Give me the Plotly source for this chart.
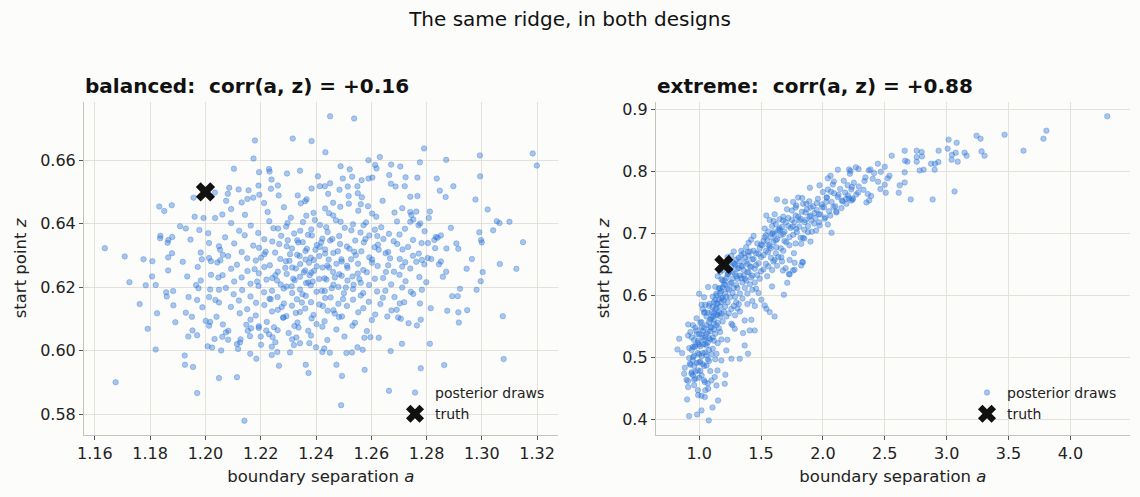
import plotly.graph_objects as go

# ---------------- data ----------------
truth_a = 1.2
truth_z = 0.65

# balanced design: sparse outer draws (a, z)
balanced_outer = [
    (1.1636, 0.6323), (1.1708, 0.6297), (1.1725, 0.6216), (1.1675, 0.5901), (1.1762, 0.6147),
    (1.1776, 0.6288), (1.1784, 0.6206), (1.1791, 0.6069), (1.1808, 0.6282), (1.1807, 0.6234),
    (1.1820, 0.6004), (1.1825, 0.6118), (1.1820, 0.6207), (1.1833, 0.6454), (1.1851, 0.6440),
    (1.1878, 0.6458), (1.1837, 0.6362), (1.1836, 0.6354), (1.1863, 0.6340), (1.1866, 0.6349),
    (1.1880, 0.6358), (1.1879, 0.6307), (1.1865, 0.6294), (1.1865, 0.6253), (1.1858, 0.6184),
    (1.1860, 0.6171), (1.1883, 0.6188), (1.1884, 0.6143), (1.1891, 0.6090), (1.1908, 0.6392),
    (1.1918, 0.6280), (1.1926, 0.5956), (1.1925, 0.5985), (1.1955, 0.5949), (1.1970, 0.5867),
    (1.1929, 0.6120), (1.1934, 0.6234), (1.1939, 0.6169), (1.1938, 0.6045), (1.1953, 0.6064),
    (1.1946, 0.6350), (1.1929, 0.6385), (1.1961, 0.6422), (1.1957, 0.6482), (1.2034, 0.6498),
    (1.1951, 0.6107), (1.1970, 0.6049), (1.1970, 0.6160), (1.1966, 0.6207), (1.1975, 0.6197),
    (1.1983, 0.6221), (1.1989, 0.6137), (1.1987, 0.6288), (1.1983, 0.6309), (1.1978, 0.6380),
    (1.1993, 0.6418), (1.1972, 0.6264), (1.2001, 0.6094), (1.2013, 0.6079), (1.2017, 0.6091),
    (1.2008, 0.6014), (1.2024, 0.6010), (1.2033, 0.6037), (1.2020, 0.6282), (1.2013, 0.6292),
    (1.2013, 0.6339), (1.2010, 0.6370), (1.2035, 0.6418), (1.2020, 0.6239), (1.2017, 0.6193),
    (1.2013, 0.6169), (1.2036, 0.6160), (1.2040, 0.6107), (1.2049, 0.5914), (1.2057, 0.6001),
    (1.2061, 0.6044), (1.2082, 0.6035), (1.2074, 0.6058), (1.2063, 0.6083), (1.2049, 0.6152),
    (1.2049, 0.6192), (1.2047, 0.6231), (1.2054, 0.6285), (1.2063, 0.6302), (1.2049, 0.6329),
    (1.2081, 0.6494), (1.2086, 0.6513), (1.2075, 0.6472), (1.2061, 0.6429), (1.2093, 0.6446),
    (1.2103, 0.6573), (1.2114, 0.5917), (1.2118, 0.6006), (1.2125, 0.6026), (1.2114, 0.6021),
    (1.3184, 0.6621), (1.3199, 0.6583), (1.2993, 0.6615), (1.2994, 0.6549), (1.2977, 0.6476),
    (1.3021, 0.6445), (1.3054, 0.6408), (1.3064, 0.6402), (1.3100, 0.6406), (1.3041, 0.6379),
    (1.2991, 0.6373), (1.2997, 0.6349), (1.3000, 0.6341), (1.3149, 0.6342), (1.3065, 0.6273),
    (1.3125, 0.6258), (1.3003, 0.6248), (1.2964, 0.6289), (1.2945, 0.6258), (1.2996, 0.6219),
    (1.2981, 0.6192), (1.2947, 0.6128), (1.2915, 0.6121), (1.2917, 0.6089), (1.3076, 0.6109),
    (1.3079, 0.5974), (1.2921, 0.6195), (1.2913, 0.6172), (1.2893, 0.6172), (1.2875, 0.6126),
    (1.2864, 0.5955), (1.2812, 0.6022), (1.2779, 0.5945), (1.2779, 0.6098), (1.2765, 0.6080),
    (1.2815, 0.6134), (1.2776, 0.6149), (1.2799, 0.6216), (1.2859, 0.6233), (1.2871, 0.6249),
    (1.2845, 0.6272), (1.2852, 0.6281), (1.2817, 0.6289), (1.2783, 0.6286), (1.2872, 0.6322),
    (1.2908, 0.6338), (1.2915, 0.6321), (1.2888, 0.6387), (1.2852, 0.6363), (1.2840, 0.6356),
    (1.2828, 0.6349), (1.2805, 0.6339), (1.2808, 0.6418), (1.2812, 0.6438), (1.2777, 0.6401),
    (1.2763, 0.6438), (1.2741, 0.6437), (1.2752, 0.6413), (1.2741, 0.6406), (1.2897, 0.6518),
    (1.2848, 0.6504), (1.2837, 0.6542), (1.2869, 0.6484), (1.2871, 0.6601), (1.2791, 0.6637),
    (1.2776, 0.6593), (1.2767, 0.6545), (1.2767, 0.6487), (1.2741, 0.6485), (1.2721, 0.6518),
    (1.2724, 0.6546), (1.2705, 0.6580), (1.2672, 0.6586), (1.2665, 0.6553), (1.2671, 0.6526),
    (1.2688, 0.6517), (1.2631, 0.6610), (1.2614, 0.6585), (1.2619, 0.6574), (1.2590, 0.6600),
    (1.2604, 0.6545), (1.2590, 0.6542), (1.2565, 0.6537), (1.2566, 0.6483), (1.2562, 0.6461),
    (1.2763, 0.6280), (1.2743, 0.6186), (1.2719, 0.6153), (1.2707, 0.6101), (1.2711, 0.6022),
    (1.2670, 0.5999), (1.2664, 0.5874), (1.2735, 0.6087), (1.2697, 0.6105), (1.2658, 0.6108),
    (1.2627, 0.6041), (1.2597, 0.6043), (1.2575, 0.6041), (1.2576, 0.5940), (1.2569, 0.6003),
    (1.2550, 0.6011), (1.2530, 0.5995), (1.2510, 0.5993), (1.2494, 0.5921), (1.2491, 0.5829),
    (1.2474, 0.5956), (1.2450, 0.5994), (1.2430, 0.6007), (1.2423, 0.5996), (1.2400, 0.6011),
    (1.2376, 0.6024), (1.2373, 0.5930), (1.2363, 0.5956), (1.2306, 0.5995), (1.2266, 0.5953),
    (1.2260, 0.5996), (1.2240, 0.5987), (1.2240, 0.6013), (1.2201, 0.6019), (1.2200, 0.6045),
    (1.2162, 0.5991), (1.2184, 0.5975), (1.2141, 0.5780), (1.2253, 0.6027), (1.2320, 0.6018),
    (1.2342, 0.6024), (1.2329, 0.6042), (1.2301, 0.6056), (1.2337, 0.6073), (1.2282, 0.6105),
    (1.2248, 0.6074), (1.2230, 0.6052), (1.2220, 0.6064), (1.2193, 0.6077), (1.2165, 0.6071),
    (1.2148, 0.6082), (1.2161, 0.6046), (1.2153, 0.6063), (1.2127, 0.6036), (1.2083, 0.6063),
    (1.2451, 0.6738), (1.2538, 0.6731), (1.2179, 0.6662), (1.2316, 0.6668), (1.2384, 0.6660),
    (1.2174, 0.6605), (1.2434, 0.6625), (1.2342, 0.6567), (1.2295, 0.6558), (1.2230, 0.6572),
    (1.2232, 0.6564), (1.2194, 0.6562), (1.2489, 0.6581), (1.2522, 0.6571), (1.2407, 0.6549),
    (1.2497, 0.6542), (1.2531, 0.6548), (1.2451, 0.6527), (1.2414, 0.6518), (1.2384, 0.6511),
    (1.2432, 0.6518), (1.2262, 0.6520), (1.2237, 0.6510), (1.2239, 0.6539), (1.2192, 0.6520),
    (1.2156, 0.6505), (1.2120, 0.6508), (1.2152, 0.6478), (1.2173, 0.6482), (1.2195, 0.6491),
    (1.2131, 0.6467), (1.2265, 0.6489), (1.2334, 0.6489), (1.2345, 0.6464), (1.2366, 0.6477),
    (1.2444, 0.6494), (1.2485, 0.6507), (1.2515, 0.6517), (1.2550, 0.6518), (1.2551, 0.6496),
    (1.2518, 0.6487), (1.2488, 0.6453), (1.2462, 0.6466),
]

# balanced design: dense core (estimated)
balanced_core = [
    (1.2212, 0.6465), (1.2284, 0.6452), (1.2361, 0.6471), (1.2433, 0.6448), (1.2519, 0.6463),
    (1.2588, 0.6455), (1.2641, 0.6472), (1.2712, 0.6449),
    (1.2143, 0.6428), (1.2225, 0.6437), (1.2309, 0.6419), (1.2391, 0.6434), (1.2462, 0.6426),
    (1.2553, 0.6441), (1.2618, 0.6422), (1.2684, 0.6435), (1.2745, 0.6427),
    (1.2093, 0.6402), (1.2164, 0.6394), (1.2231, 0.6408), (1.2292, 0.6391), (1.2353, 0.6405),
    (1.2414, 0.6396), (1.2472, 0.6411), (1.2534, 0.6398), (1.2581, 0.6404), (1.2636, 0.6389),
    (1.2693, 0.6407), (1.2771, 0.6395),
    (1.2122, 0.6378), (1.2191, 0.6371), (1.2263, 0.6385), (1.2321, 0.6369), (1.2383, 0.6382),
    (1.2442, 0.6374), (1.2504, 0.6387), (1.2561, 0.6372), (1.2613, 0.6381), (1.2664, 0.6368),
    (1.2722, 0.6384), (1.2793, 0.6376),
    (1.2071, 0.6357), (1.2142, 0.6364), (1.2213, 0.6351), (1.2274, 0.6362), (1.2332, 0.6348),
    (1.2371, 0.6365), (1.2423, 0.6353), (1.2484, 0.6361), (1.2542, 0.6347), (1.2593, 0.6363),
    (1.2644, 0.6352), (1.2702, 0.6366), (1.2751, 0.6349), (1.2834, 0.6358),
    (1.2104, 0.6338), (1.2173, 0.6331), (1.2242, 0.6344), (1.2294, 0.6329), (1.2352, 0.6342),
    (1.2403, 0.6333), (1.2451, 0.6347), (1.2512, 0.6328), (1.2573, 0.6341), (1.2624, 0.6334),
    (1.2681, 0.6345), (1.2733, 0.6327), (1.2782, 0.6339),
    (1.2053, 0.6318), (1.2131, 0.6311), (1.2194, 0.6324), (1.2252, 0.6309), (1.2313, 0.6322),
    (1.2362, 0.6314), (1.2414, 0.6327), (1.2463, 0.6308), (1.2521, 0.6321), (1.2564, 0.6313),
    (1.2612, 0.6326), (1.2661, 0.6311), (1.2713, 0.6319), (1.2772, 0.6306), (1.2831, 0.6323),
    (1.2082, 0.6298), (1.2151, 0.6291), (1.2213, 0.6304), (1.2271, 0.6289), (1.2332, 0.6302),
    (1.2381, 0.6293), (1.2433, 0.6306), (1.2492, 0.6288), (1.2544, 0.6301), (1.2593, 0.6294),
    (1.2652, 0.6307), (1.2703, 0.6289), (1.2751, 0.6299), (1.2804, 0.6292),
    (1.2043, 0.6278), (1.2114, 0.6271), (1.2182, 0.6284), (1.2233, 0.6269), (1.2291, 0.6282),
    (1.2343, 0.6273), (1.2392, 0.6286), (1.2441, 0.6268), (1.2493, 0.6281), (1.2552, 0.6274),
    (1.2603, 0.6287), (1.2661, 0.6269), (1.2723, 0.6279), (1.2792, 0.6272),
    (1.2093, 0.6258), (1.2152, 0.6251), (1.2213, 0.6264), (1.2262, 0.6249), (1.2314, 0.6262),
    (1.2361, 0.6253), (1.2403, 0.6266), (1.2462, 0.6248), (1.2514, 0.6261), (1.2571, 0.6254),
    (1.2623, 0.6267), (1.2682, 0.6249), (1.2741, 0.6259),
    (1.2062, 0.6238), (1.2131, 0.6231), (1.2193, 0.6244), (1.2242, 0.6229), (1.2294, 0.6242),
    (1.2342, 0.6233), (1.2383, 0.6246), (1.2431, 0.6228), (1.2484, 0.6241), (1.2532, 0.6234),
    (1.2584, 0.6247), (1.2643, 0.6229), (1.2702, 0.6239), (1.2774, 0.6232),
    (1.2104, 0.6218), (1.2163, 0.6211), (1.2221, 0.6224), (1.2272, 0.6209), (1.2323, 0.6222),
    (1.2364, 0.6213), (1.2412, 0.6226), (1.2463, 0.6208), (1.2514, 0.6221), (1.2562, 0.6214),
    (1.2613, 0.6227), (1.2672, 0.6209), (1.2724, 0.6219),
    (1.2074, 0.6198), (1.2133, 0.6191), (1.2192, 0.6204), (1.2241, 0.6189), (1.2293, 0.6202),
    (1.2342, 0.6193), (1.2381, 0.6206), (1.2432, 0.6188), (1.2481, 0.6201), (1.2534, 0.6194),
    (1.2592, 0.6207), (1.2651, 0.6189), (1.2712, 0.6199), (1.2783, 0.6192),
    (1.2102, 0.6178), (1.2163, 0.6171), (1.2212, 0.6184), (1.2261, 0.6169), (1.2314, 0.6182),
    (1.2363, 0.6173), (1.2402, 0.6186), (1.2453, 0.6168), (1.2501, 0.6181), (1.2562, 0.6174),
    (1.2621, 0.6187), (1.2684, 0.6169), (1.2752, 0.6179),
    (1.2121, 0.6158), (1.2183, 0.6151), (1.2232, 0.6164), (1.2284, 0.6149), (1.2331, 0.6162),
    (1.2382, 0.6153), (1.2433, 0.6166), (1.2481, 0.6148), (1.2534, 0.6161), (1.2591, 0.6154),
    (1.2642, 0.6167), (1.2703, 0.6149),
    (1.2092, 0.6138), (1.2151, 0.6131), (1.2213, 0.6144), (1.2262, 0.6129), (1.2313, 0.6142),
    (1.2361, 0.6133), (1.2412, 0.6146), (1.2463, 0.6128), (1.2512, 0.6141), (1.2571, 0.6134),
    (1.2633, 0.6147), (1.2692, 0.6129),
    (1.2124, 0.6118), (1.2182, 0.6111), (1.2241, 0.6124), (1.2293, 0.6109), (1.2342, 0.6122),
    (1.2391, 0.6113), (1.2442, 0.6126), (1.2494, 0.6108), (1.2553, 0.6121), (1.2614, 0.6114),
    (1.2673, 0.6127),
    (1.2163, 0.6098), (1.2222, 0.6091), (1.2281, 0.6104), (1.2333, 0.6089), (1.2384, 0.6102),
    (1.2431, 0.6093), (1.2483, 0.6106), (1.2541, 0.6088), (1.2602, 0.6097),
    (1.2193, 0.6072), (1.2261, 0.6065), (1.2322, 0.6078), (1.2372, 0.6063), (1.2423, 0.6076),
    (1.2474, 0.6067), (1.2532, 0.6079), (1.2584, 0.6062),
    (1.2243, 0.6043), (1.2314, 0.6036), (1.2382, 0.6048), (1.2441, 0.6034), (1.2503, 0.6045),
    (1.2304, 0.6283), (1.2356, 0.6247), (1.2398, 0.6318), (1.2447, 0.6262), (1.2372, 0.6215),
    (1.2421, 0.6189), (1.2336, 0.6341), (1.2459, 0.6352), (1.2283, 0.6196), (1.2375, 0.6277),
    (1.2493, 0.6236), (1.2412, 0.6298), (1.2327, 0.6259), (1.2385, 0.6363), (1.2479, 0.6313),
    (1.2253, 0.6238), (1.2351, 0.6178), (1.2438, 0.6224), (1.2527, 0.6288), (1.2306, 0.6304),
    (1.2218, 0.6312), (1.2267, 0.6336), (1.2289, 0.6261), (1.2318, 0.6227), (1.2341, 0.6298),
    (1.2367, 0.6321), (1.2393, 0.6252), (1.2419, 0.6342), (1.2446, 0.6287), (1.2468, 0.6231),
    (1.2487, 0.6336), (1.2512, 0.6268), (1.2538, 0.6312), (1.2557, 0.6226), (1.2579, 0.6352),
    (1.2603, 0.6277), (1.2627, 0.6318), (1.2236, 0.6162), (1.2276, 0.6138), (1.2312, 0.6203),
    (1.2349, 0.6152), (1.2388, 0.6218), (1.2425, 0.6141), (1.2457, 0.6197), (1.2498, 0.6163),
    (1.2536, 0.6208), (1.2571, 0.6182), (1.2246, 0.6386), (1.2297, 0.6402), (1.2343, 0.6378),
    (1.2396, 0.6412), (1.2437, 0.6389), (1.2489, 0.6406), (1.2528, 0.6379), (1.2572, 0.6395),
    (1.2622, 0.6361), (1.2178, 0.6257), (1.2201, 0.6293), (1.2187, 0.6218), (1.2653, 0.6248),
    (1.2668, 0.6291), (1.2694, 0.6336), (1.2712, 0.6265), (1.2327, 0.6119), (1.2402, 0.6084),
    (1.2468, 0.6117), (1.2365, 0.6425), (1.2447, 0.6433), (1.2603, 0.6432), (1.2298, 0.6348),
    (1.2362, 0.6287), (1.2424, 0.6262), (1.2474, 0.6274), (1.2259, 0.6221), (1.2508, 0.6199),
    (1.2551, 0.6243), (1.2377, 0.6238), (1.2433, 0.6319),
]

# extreme design: sparse upper arm and edges
extreme_outer = [
    (4.298, 0.8892), (3.806, 0.8660), (3.782, 0.8531), (3.468, 0.8596), (3.621, 0.8337),
    (3.242, 0.8580), (3.274, 0.8531), (3.282, 0.8326), (3.306, 0.8256), (3.145, 0.8305),
    (3.161, 0.8256), (3.016, 0.8515), (3.081, 0.8466), (3.073, 0.8305), (3.043, 0.8272),
    (3.040, 0.8192), (3.089, 0.8159), (3.008, 0.8369), (2.935, 0.8337), (2.933, 0.8154),
    (2.906, 0.8127), (2.874, 0.8127), (2.903, 0.8030), (2.814, 0.8030), (2.782, 0.8019),
    (3.064, 0.7679), (2.887, 0.7550), (2.710, 0.7550), (2.661, 0.8337), (2.758, 0.8337),
    (2.798, 0.8315), (2.758, 0.8234), (2.664, 0.8175), (2.683, 0.8159), (2.758, 0.8159),
    (2.801, 0.8245), (2.556, 0.8256), (2.661, 0.7987), (2.661, 0.7825), (2.621, 0.7777),
    (2.613, 0.7658), (2.508, 0.7658), (2.500, 0.7787), (2.538, 0.7933), (2.524, 0.7890),
    (2.500, 0.8078), (2.468, 0.7997), (2.444, 0.8127), (2.414, 0.7976), (2.384, 0.8035),
    (2.371, 0.8019), (2.403, 0.7884), (2.446, 0.7836), (2.465, 0.7717), (2.363, 0.7636),
    (2.390, 0.7604), (2.352, 0.7501), (2.374, 0.7534), (2.336, 0.7847), (2.344, 0.7906),
    (2.288, 0.8041), (2.266, 0.8068), (2.212, 0.8035), (2.223, 0.8008), (2.121, 0.8030),
    (2.062, 0.7933), (2.040, 0.7890), (2.089, 0.7841), (2.169, 0.7852), (2.218, 0.7965),
    (2.285, 0.7663), (2.328, 0.7706), (2.234, 0.7750), (1.973, 0.7777), (1.895, 0.7739),
    (2.065, 0.7674), (2.126, 0.7625), (2.202, 0.7615), (2.188, 0.7561), (2.153, 0.7534),
    (2.231, 0.7534), (2.242, 0.7566), (2.086, 0.7426), (2.108, 0.7356), (2.070, 0.7011),
    (1.629, 0.7550), (1.694, 0.7518), (1.833, 0.7572), (1.866, 0.7480), (1.785, 0.7453),
    (2.032, 0.7582), (2.000, 0.7669), (2.027, 0.7507), (1.995, 0.7426), (1.968, 0.7307),
    (1.933, 0.7329), (1.892, 0.7275), (1.906, 0.7210), (1.852, 0.7183), (1.812, 0.7210),
    (1.758, 0.7113), (1.785, 0.7076), (1.973, 0.7130), (2.013, 0.7237), (2.040, 0.7146),
    (1.946, 0.7049), (1.839, 0.6930), (1.879, 0.7022), (1.825, 0.6833), (1.766, 0.6682),
    (1.704, 0.6860), (1.602, 0.7200), (1.543, 0.7291), (1.677, 0.7210), (1.650, 0.7049),
    (1.591, 0.6995), (1.624, 0.6779), (1.557, 0.6698), (1.610, 0.6574), (1.664, 0.6618),
    (1.731, 0.6574), (1.699, 0.6440), (1.772, 0.6526), (1.726, 0.6348), (1.839, 0.6537),
    (1.758, 0.6402),
    (1.078, 0.3983), (0.919, 0.4052), (0.984, 0.4079), (1.019, 0.4144), (1.108, 0.4192),
    (1.019, 0.4380), (0.903, 0.4321), (0.992, 0.4391), (1.046, 0.4359), (1.153, 0.4305),
    (1.073, 0.4494), (1.140, 0.4547), (1.207, 0.4574), (0.911, 0.4521), (0.898, 0.4639),
    (0.879, 0.4736), (0.884, 0.4833), (0.825, 0.5128), (0.863, 0.5069), (0.839, 0.5301),
    (0.911, 0.5354), (0.911, 0.5532), (1.000, 0.6027), (1.073, 0.6135), (1.261, 0.4978),
    (1.328, 0.4978), (1.395, 0.5059), (1.368, 0.5193), (1.449, 0.5435), (1.409, 0.5435),
    (1.610, 0.5661), (1.570, 0.5731), (1.543, 0.5785), (1.503, 0.5930), (1.530, 0.5839),
    (1.685, 0.6011), (1.712, 0.6204), (1.833, 0.6538), (1.825, 0.6484), (1.771, 0.6414),
    (1.731, 0.6339), (1.677, 0.6404), (1.589, 0.6145), (1.355, 0.5392), (1.422, 0.5607),
    (1.368, 0.5596), (1.288, 0.5462), (1.261, 0.5543), (1.228, 0.5284), (1.220, 0.5112),
    (1.180, 0.4951), (1.148, 0.4789), (1.212, 0.4720), (1.099, 0.4628), (1.126, 0.4682),
    (1.046, 0.4601), (0.960, 0.4639), (0.938, 0.4736), (0.925, 0.4897), (0.952, 0.5005),
    (0.965, 0.5166), (0.992, 0.5274), (0.978, 0.5435), (1.019, 0.5570), (1.046, 0.5731),
    (1.086, 0.5866), (1.140, 0.6000), (1.167, 0.6108), (1.207, 0.6242), (1.234, 0.6350),
    (1.288, 0.6511), (1.341, 0.6646), (1.395, 0.6700),
]

# extreme design: dense ridge (estimated)
extreme_core = [
    (0.91, 0.462), (0.93, 0.488), (0.95, 0.471), (0.92, 0.515), (0.96, 0.503),
    (0.94, 0.532), (0.97, 0.548), (0.99, 0.524), (0.98, 0.491), (1.00, 0.467),
    (0.96, 0.455), (0.99, 0.447), (1.01, 0.478), (0.93, 0.541), (0.97, 0.519),
    (0.95, 0.495), (1.00, 0.538), (0.98, 0.563), (0.94, 0.476), (0.92, 0.499),
    (0.96, 0.528), (0.99, 0.507), (1.00, 0.492), (0.97, 0.466), (0.95, 0.552),
    (1.02, 0.502), (1.03, 0.521), (1.04, 0.548), (1.05, 0.533), (1.01, 0.556),
    (1.06, 0.566), (1.03, 0.489), (1.05, 0.508), (1.07, 0.541), (1.08, 0.557),
    (1.02, 0.471), (1.04, 0.463), (1.06, 0.487), (1.08, 0.512), (1.09, 0.529),
    (1.10, 0.548), (1.03, 0.578), (1.05, 0.585), (1.07, 0.572), (1.09, 0.561),
    (1.10, 0.573), (1.04, 0.528), (1.06, 0.519), (1.02, 0.537), (1.08, 0.494),
    (1.01, 0.518), (1.07, 0.458), (1.05, 0.447), (1.09, 0.478), (1.10, 0.505),
    (1.03, 0.543), (1.06, 0.552), (1.08, 0.583), (1.04, 0.597), (1.02, 0.585),
    (1.11, 0.532), (1.12, 0.561), (1.13, 0.578), (1.14, 0.552), (1.15, 0.569),
    (1.16, 0.594), (1.12, 0.589), (1.14, 0.603), (1.17, 0.582), (1.18, 0.607),
    (1.19, 0.596), (1.20, 0.618), (1.11, 0.514), (1.13, 0.497), (1.15, 0.523),
    (1.17, 0.541), (1.19, 0.558), (1.12, 0.545), (1.16, 0.612), (1.18, 0.626),
    (1.14, 0.587), (1.20, 0.574), (1.13, 0.614), (1.15, 0.631), (1.17, 0.638),
    (1.11, 0.598), (1.19, 0.641), (1.16, 0.547), (1.18, 0.529), (1.14, 0.506),
    (1.20, 0.592), (1.12, 0.571), (1.13, 0.538), (1.17, 0.566), (1.19, 0.613),
    (1.21, 0.603), (1.22, 0.628), (1.23, 0.611), (1.24, 0.637), (1.25, 0.619),
    (1.26, 0.646), (1.27, 0.627), (1.28, 0.652), (1.29, 0.635), (1.30, 0.617),
    (1.31, 0.643), (1.32, 0.661), (1.33, 0.632), (1.34, 0.648), (1.21, 0.582),
    (1.23, 0.589), (1.25, 0.597), (1.27, 0.604), (1.29, 0.598), (1.31, 0.612),
    (1.33, 0.603), (1.22, 0.566), (1.24, 0.571), (1.26, 0.578), (1.28, 0.583),
    (1.30, 0.589), (1.32, 0.586), (1.35, 0.621), (1.34, 0.672), (1.26, 0.664),
    (1.24, 0.654), (1.28, 0.671), (1.30, 0.658), (1.22, 0.645), (1.35, 0.595),
    (1.29, 0.568), (1.33, 0.574), (1.27, 0.552), (1.31, 0.579), (1.23, 0.662),
    (1.36, 0.641), (1.37, 0.627), (1.38, 0.655), (1.39, 0.638), (1.40, 0.664),
    (1.41, 0.647), (1.42, 0.629), (1.43, 0.658), (1.44, 0.672), (1.45, 0.643),
    (1.46, 0.668), (1.47, 0.684), (1.48, 0.652), (1.49, 0.676), (1.50, 0.662),
    (1.37, 0.612), (1.39, 0.603), (1.41, 0.618), (1.43, 0.609), (1.45, 0.621),
    (1.47, 0.633), (1.49, 0.627), (1.38, 0.678), (1.40, 0.685), (1.42, 0.690),
    (1.44, 0.696), (1.36, 0.668), (1.46, 0.611), (1.48, 0.604), (1.50, 0.639),
    (1.43, 0.591), (1.39, 0.586), (1.45, 0.583),
    (1.51, 0.681), (1.52, 0.665), (1.53, 0.694), (1.54, 0.672), (1.55, 0.688),
    (1.56, 0.703), (1.57, 0.679), (1.58, 0.694), (1.59, 0.712), (1.60, 0.686),
    (1.61, 0.699), (1.62, 0.715), (1.63, 0.691), (1.64, 0.706), (1.65, 0.723),
    (1.66, 0.697), (1.67, 0.711), (1.68, 0.727), (1.69, 0.703), (1.70, 0.718),
    (1.52, 0.642), (1.54, 0.651), (1.56, 0.647), (1.58, 0.661), (1.60, 0.655),
    (1.62, 0.668), (1.64, 0.662), (1.66, 0.676), (1.68, 0.672), (1.53, 0.708),
    (1.57, 0.722), (1.61, 0.731), (1.55, 0.631), (1.59, 0.641), (1.63, 0.648),
    (1.67, 0.655), (1.69, 0.688),
    (1.72, 0.725), (1.74, 0.709), (1.75, 0.737), (1.77, 0.718), (1.78, 0.742),
    (1.80, 0.727), (1.81, 0.711), (1.83, 0.735), (1.84, 0.748), (1.86, 0.722),
    (1.87, 0.739), (1.89, 0.752), (1.90, 0.729), (1.92, 0.744), (1.93, 0.716),
    (1.95, 0.738), (1.96, 0.756), (1.98, 0.731), (1.99, 0.747), (1.73, 0.694),
    (1.76, 0.698), (1.79, 0.702), (1.82, 0.693), (1.85, 0.706), (1.88, 0.712),
    (1.91, 0.703), (1.94, 0.725), (1.97, 0.718), (1.71, 0.739), (1.76, 0.751),
    (1.80, 0.758), (1.73, 0.681), (1.78, 0.684), (1.85, 0.692), (1.90, 0.687),
    (2.01, 0.742), (2.03, 0.758), (2.05, 0.736), (2.07, 0.751), (2.09, 0.765),
    (2.10, 0.744), (2.12, 0.759), (2.14, 0.772), (2.16, 0.752), (2.18, 0.766),
    (2.20, 0.778), (2.21, 0.757), (2.23, 0.771), (2.25, 0.782), (2.27, 0.763),
    (2.02, 0.726), (2.06, 0.729), (2.11, 0.734), (2.04, 0.771), (2.08, 0.779),
    (2.15, 0.741), (2.19, 0.748), (2.24, 0.755), (2.29, 0.776),
    (0.94, 0.512), (0.96, 0.486), (0.98, 0.537), (1.00, 0.521), (1.01, 0.493),
    (1.02, 0.548), (1.03, 0.507), (1.04, 0.572), (1.05, 0.522), (1.06, 0.538),
    (1.07, 0.497), (1.08, 0.531), (1.09, 0.549), (1.10, 0.563), (1.11, 0.581),
    (1.12, 0.554), (1.13, 0.593), (1.14, 0.569), (1.15, 0.587), (1.16, 0.573),
    (1.17, 0.604), (1.18, 0.589), (1.19, 0.624), (1.21, 0.617), (1.22, 0.598),
    (1.23, 0.634), (1.24, 0.609), (1.25, 0.641), (1.26, 0.621), (1.27, 0.638),
    (1.28, 0.612), (1.29, 0.649), (1.30, 0.631), (1.31, 0.627), (1.32, 0.644),
    (1.33, 0.655), (1.34, 0.628), (1.35, 0.647), (1.36, 0.632), (1.37, 0.661),
    (1.38, 0.624), (1.39, 0.651), (1.40, 0.637), (1.41, 0.671), (1.42, 0.646),
    (1.43, 0.632), (1.44, 0.659), (1.46, 0.649), (1.48, 0.667), (1.50, 0.682),
    (1.52, 0.688), (1.54, 0.697), (1.56, 0.681), (1.58, 0.676), (1.60, 0.702),
    (1.62, 0.689), (1.65, 0.708), (1.68, 0.699), (1.72, 0.712), (1.75, 0.722),
    (1.78, 0.729), (1.82, 0.724), (1.86, 0.734), (1.90, 0.742), (1.95, 0.749),
    (0.97, 0.477), (1.00, 0.505), (1.03, 0.532), (1.06, 0.503), (1.09, 0.542),
    (1.12, 0.527), (1.15, 0.556), (1.18, 0.571), (0.95, 0.517), (0.99, 0.479),
    (1.04, 0.486), (1.07, 0.524), (1.11, 0.566), (1.14, 0.579), (1.18, 0.596),
]

panel_titles = ["balanced:\u00a0 corr(a, z) = +0.16", "extreme:\u00a0 corr(a, z) = +0.88"]

# ---------------- style ----------------
bg = "#fcfcfa"
dot = "rgba(42, 116, 216, 0.40)"
grid = "#e4e1db"
spine = "#c6c3bb"
W, H = 1140, 497
ml, mr, mt, mb = 84, 10, 102, 62
pw, ph = W - ml - mr, H - mt - mb


def px_x(p):
    return (p - ml) / pw


def px_y(p):
    return (H - mb - p) / ph


bal = balanced_outer + balanced_core
ext = extreme_outer + extreme_core

fig = go.Figure()

for i, (pts, leg) in enumerate([(bal, "legend"), (ext, "legend2")]):
    xa = "x" if i == 0 else "x2"
    ya = "y" if i == 0 else "y2"
    fig.add_trace(go.Scatter(
        x=[p[0] for p in pts], y=[p[1] for p in pts],
        mode="markers", name="posterior draws",
        marker=dict(size=5.5, color=dot, line=dict(width=0.8, color=dot)),
        xaxis=xa, yaxis=ya, legend=leg, hoverinfo="skip",
    ))
    fig.add_trace(go.Scatter(
        x=[truth_a], y=[truth_z],
        mode="markers", name="truth",
        marker=dict(symbol="x", size=17, color="#111111", line=dict(width=0)),
        xaxis=xa, yaxis=ya, legend=leg,
    ))

axis_common = dict(
    showgrid=True, gridcolor=grid, gridwidth=1, zeroline=False,
    showline=True, linecolor=spine, linewidth=1,
    ticks="outside", ticklen=4, tickcolor="#555555",
    tickfont=dict(size=16, color="#222222"),
    automargin=False,
)

fig.update_layout(
    width=W, height=H,
    margin=dict(l=ml, r=mr, t=mt, b=mb),
    paper_bgcolor=bg, plot_bgcolor=bg,
    font=dict(family="DejaVu Sans", color="#222222"),
    title=dict(text="The same ridge, in both designs", x=0.5, xref="container",
               y=1 - 19 / H, yref="container", yanchor="middle",
               font=dict(size=20, color="#111111")),
    xaxis=dict(axis_common, domain=[0, px_x(557.5)], range=[1.15606, 1.32738],
               tick0=1.16, dtick=0.02, tickformat=".2f", anchor="y",
               title=dict(text="boundary separation <i>a</i>", font=dict(size=16.5), standoff=8)),
    yaxis=dict(axis_common, domain=[0, 1], range=[0.5735, 0.6783],
               tick0=0.58, dtick=0.02, tickformat=".2f", anchor="x",
               title=dict(text="start point <i>z</i>", font=dict(size=16.5), standoff=9)),
    xaxis2=dict(axis_common, domain=[px_x(655.8), 1], range=[0.650, 4.4815],
                tick0=1.0, dtick=0.5, tickformat=".1f", anchor="y2",
                title=dict(text="boundary separation <i>a</i>", font=dict(size=16.5), standoff=8)),
    yaxis2=dict(axis_common, domain=[0, 1], range=[0.3747, 0.9123],
                tick0=0.4, dtick=0.1, tickformat=".1f", anchor="x2",
                title=dict(text="start point <i>z</i>", font=dict(size=16.5), standoff=8)),
    legend=dict(x=px_x(550), xanchor="right", y=px_y(430), yanchor="bottom",
                bgcolor="rgba(0,0,0,0)", font=dict(size=14, color="#222222")),
    legend2=dict(x=px_x(1122), xanchor="right", y=px_y(430), yanchor="bottom",
                 bgcolor="rgba(0,0,0,0)", font=dict(size=14, color="#222222")),
    annotations=[
        dict(text="<b>" + panel_titles[0] + "</b>", xref="paper", yref="paper",
             x=px_x(83), y=px_y(86), xanchor="left", yanchor="middle",
             showarrow=False, font=dict(size=20, color="#111111")),
        dict(text="<b>" + panel_titles[1] + "</b>", xref="paper", yref="paper",
             x=px_x(655), y=px_y(86), xanchor="left", yanchor="middle",
             showarrow=False, font=dict(size=20, color="#111111")),
    ],
)

# browser default body margin would shift the figure by 8px
fig.write_html("out.html", config={"displayModeBar": False},
               post_script="document.body.style.margin='0';document.body.style.background='#fcfcfa';")
